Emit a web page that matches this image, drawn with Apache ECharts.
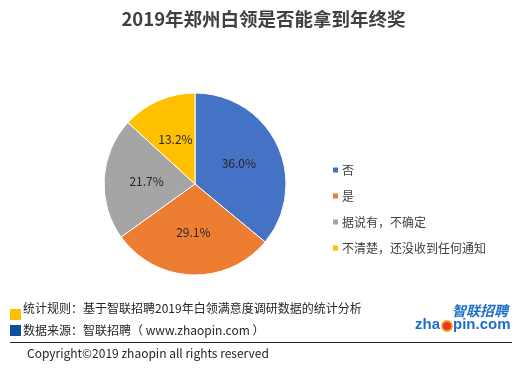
<!DOCTYPE html>
<html><head><meta charset="utf-8">
<script src="https://cdn.jsdelivr.net/npm/echarts@6/dist/echarts.min.js"></script>
<style>html,body{margin:0;padding:0;background:#fff}#c{width:527px;height:369px}</style>
</head><body><div id="c"></div>
<script>
var titleText = '2019年郑州白领是否能拿到年终奖';
var categories = ['否', '是', '据说有，不确定', '不清楚，还没收到任何通知'];
var values = [36.0, 29.1, 21.7, 13.2];
var colors = ['#4472C4', '#ED7D31', '#A5A5A5', '#FFC000'];
var noteRule = '统计规则：基于智联招聘2019年白领满意度调研数据的统计分析';
var noteSource = '数据来源：智联招聘（ www.zhaopin.com ）';
var copyright = 'Copyright©2019 zhaopin all rights reserved';

var FONT = '"Noto Sans CJK SC", "Noto Sans", sans-serif';
var chart = echarts.init(document.getElementById('c'));
chart.setOption({
  animation: false,
  backgroundColor: '#fff',
  color: colors,
  title: {
    text: titleText, left: 'center', top: 10, padding: 0,
    textStyle: {fontFamily: FONT, fontSize: 18.5, fontWeight: 'bold', color: '#404040'}
  },
  legend: {
    orient: 'vertical', left: 331, top: 164, padding: 0, itemWidth: 7, itemHeight: 7, itemGap: 14,
    icon: 'rect',
    textStyle: {fontFamily: FONT, fontSize: 12, color: '#404040', padding: [0,0,0,-2]},
    data: categories
  },
  series: [{
    type: 'pie', center: [195, 184], radius: [0, 91], startAngle: 90, clockwise: true,
    label: {
      show: true, position: 'inside', fontFamily: FONT, fontSize: 12, color: '#262626',
      formatter: function (p) { return p.value.toFixed(1) + '%'; }
    },
    labelLine: {show: false},
    itemStyle: {borderColor: '#fff', borderWidth: 1},
    emphasis: {disabled: true},
    data: categories.map(function (c, i) { return {name: c, value: values[i]}; })
  }],
  graphic: [
    {type: 'rect', shape: {x: 10, y: 309, width: 11, height: 11}, style: {fill: '#FFC000'}},
    {type: 'text', style: {x: 23, y: 308, text: noteRule, font: '12px ' + FONT, fill: '#262626', textVerticalAlign: 'middle'}},
    {type: 'rect', shape: {x: 10, y: 325, width: 11, height: 11}, style: {fill: '#0F4F9E'}},
    {type: 'text', style: {x: 23, y: 330, text: noteSource, font: '12px ' + FONT, fill: '#262626', textVerticalAlign: 'middle'}},
    {type: 'line', shape: {x1: 10, y1: 342.5, x2: 512, y2: 342.5}, style: {stroke: '#222', lineWidth: 1}},
    {type: 'text', style: {x: 27, y: 353, text: copyright, font: '12px ' + FONT, fill: '#262626', textVerticalAlign: 'middle'}},
    {type: 'text', style: {x: 452, y: 311, text: '智联招聘', font: 'italic bold 14px ' + FONT, fill: '#1E6FC8', textVerticalAlign: 'middle'}},
    {type: 'text', style: {x: 415, y: 325, text: 'zha', font: 'bold 15px "Liberation Sans", Arial, sans-serif', fill: '#1E6FC8', textVerticalAlign: 'middle'}},
    {type: 'circle', shape: {cx: 447, cy: 326, r: 5}, style: {fill: '#E53A2B', stroke: '#F7A21B', lineWidth: 2}},
    {type: 'text', style: {x: 453, y: 325, text: 'pin.com', font: 'bold 15px "Liberation Sans", Arial, sans-serif', fill: '#1E6FC8', textVerticalAlign: 'middle'}}
  ]
});
</script></body></html>
